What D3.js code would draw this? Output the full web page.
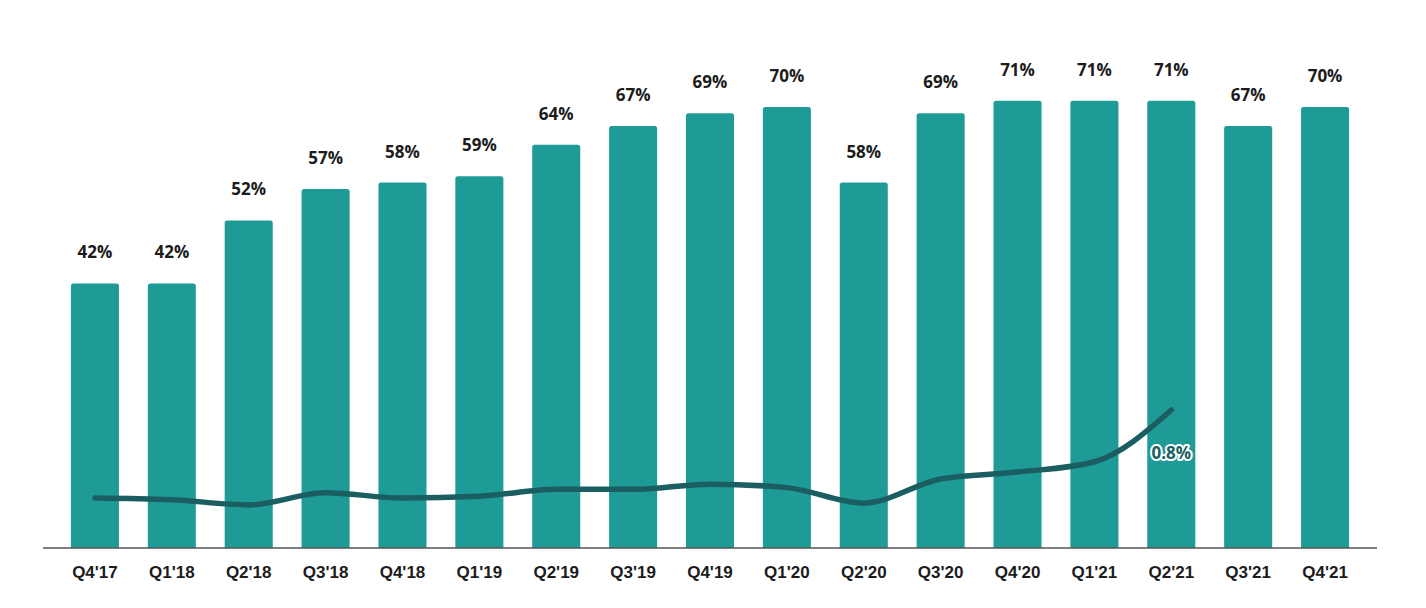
<!DOCTYPE html>
<html>
<head>
<meta charset="utf-8">
<script src="https://cdn.jsdelivr.net/npm/d3@7"></script>
<style>
  html, body { margin: 0; padding: 0; background: #ffffff; }
  svg { display: block; }
</style>
</head>
<body>
<svg id="chart" width="1426" height="608"></svg>
<script>
const categories = ["Q4'17","Q1'18","Q2'18","Q3'18","Q4'18","Q1'19","Q2'19","Q3'19","Q4'19","Q1'20","Q2'20","Q3'20","Q4'20","Q1'21","Q2'21","Q3'21","Q4'21"];
const barValues = [42, 42, 52, 57, 58, 59, 64, 67, 69, 70, 58, 69, 71, 71, 71, 67, 70];
const lineCategories = ["Q4'17","Q1'18","Q2'18","Q3'18","Q4'18","Q1'19","Q2'19","Q3'19","Q4'19","Q1'20","Q2'20","Q3'20","Q4'20","Q1'21","Q2'21"];
const lineValues = [0.29, 0.28, 0.25, 0.32, 0.29, 0.30, 0.34, 0.34, 0.37, 0.35, 0.26, 0.40, 0.44, 0.50, 0.80];
const lineLabel = "0.8%";

const svg = d3.select("#chart");
const baseY = 548;

const x = d3.scaleBand()
  .domain(categories)
  .range([56.5, 1363.5])
  .paddingInner(0.375)
  .paddingOuter(0.1875);

const y = d3.scaleLinear().domain([0, 80]).range([baseY, 44]);
const y2 = d3.scaleLinear().domain([0, 2]).range([baseY, 203]);

// bars
const bw = x.bandwidth();
svg.append("g").selectAll("path")
  .data(barValues)
  .join("path")
  .attr("fill", "#1f9b97")
  .attr("d", (d, i) => {
    const x0 = x(categories[i]), x1 = x0 + bw, top = y(d), r = 2.5;
    return `M${x0},${baseY}V${top + r}Q${x0},${top} ${x0 + r},${top}H${x1 - r}Q${x1},${top} ${x1},${top + r}V${baseY}Z`;
  });

// bar labels
svg.append("g").selectAll("text")
  .data(barValues)
  .join("text")
  .attr("x", (d, i) => x(categories[i]) + bw / 2)
  .attr("y", d => y(d) - 25)
  .attr("text-anchor", "middle")
  .attr("font-family", "'Open Sans', 'Noto Sans', sans-serif")
  .attr("font-weight", 700)
  .attr("font-size", 17)
  .attr("fill", "#1c1c1c")
  .text(d => d + "%");

// x axis
const axis = d3.axisBottom(x).tickSize(0).tickPadding(18);
const gx = svg.append("g").attr("transform", `translate(0,${baseY})`).call(axis);
gx.select(".domain").remove();
gx.selectAll("text")
  .attr("font-family", "'Liberation Sans', Arial, sans-serif")
  .attr("font-weight", 700)
  .attr("font-size", 17)
  .attr("fill", "#1c1c1c");
svg.append("line")
  .attr("x1", 43).attr("x2", 1377)
  .attr("y1", baseY).attr("y2", baseY)
  .attr("stroke", "#555555").attr("stroke-width", 1.6);

// line
const line = d3.line()
  .x((d, i) => x(lineCategories[i]) + bw / 2)
  .y(d => y2(d))
  .curve(d3.curveMonotoneX);
svg.append("path")
  .datum(lineValues)
  .attr("d", line)
  .attr("fill", "none")
  .attr("stroke", "#1b5e62")
  .attr("stroke-width", 5.5)
  .attr("stroke-linecap", "round")
  .attr("stroke-linejoin", "round");

// line label
const lastIdx = lineValues.length - 1;
svg.append("text")
  .attr("x", x(lineCategories[lastIdx]) + bw / 2)
  .attr("y", y2(lineValues[lastIdx]) + 49)
  .attr("text-anchor", "middle")
  .attr("font-family", "'Open Sans', 'Noto Sans', sans-serif")
  .attr("font-weight", 700)
  .attr("font-size", 17)
  .attr("fill", "#1b5e62")
  .attr("stroke", "#ffffff")
  .attr("stroke-width", 4)
  .attr("paint-order", "stroke")
  .attr("stroke-linejoin", "round")
  .text(lineLabel);
</script>
</body>
</html>
